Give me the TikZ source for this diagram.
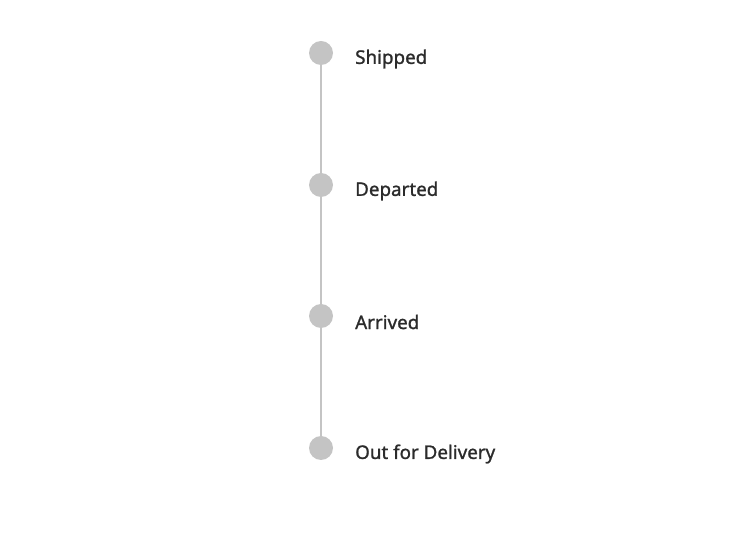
\documentclass[tikz,border=0pt]{standalone}
\usepackage{fontspec}
\setmainfont{Noto Sans}[FakeBold=1.2]
\definecolor{dotgray}{HTML}{C4C4C4}
\definecolor{txt}{HTML}{2B2B2B}
\begin{document}
\begin{tikzpicture}[x=1pt,y=-1pt,
  dot/.style={circle,fill=dotgray,minimum size=24pt,inner sep=0pt},
  lbl/.style={anchor=west,text=txt,font=\fontsize{18.8}{20}\selectfont\bfseries,inner sep=0pt},
  conn/.style={draw=dotgray,line width=2pt}]
\useasboundingbox (0,0) rectangle (748,534);
\node[dot] (a) at (321,53) {};
\node[dot] (b) at (321,185) {};
\node[dot] (c) at (321,316) {};
\node[dot] (d) at (321,448) {};
\draw[conn] (a) -- (b);
\draw[conn] (b) -- (c);
\draw[conn] (c) -- (d);
\node[lbl] (ta) at (355,59) {Shipped};
\node[lbl] (tb) at (355,191) {Departed};
\node[lbl] (tc) at (355,322) {Arrived};
\node[lbl] (td) at (355,454) {Out for Delivery};
\end{tikzpicture}
\end{document}
